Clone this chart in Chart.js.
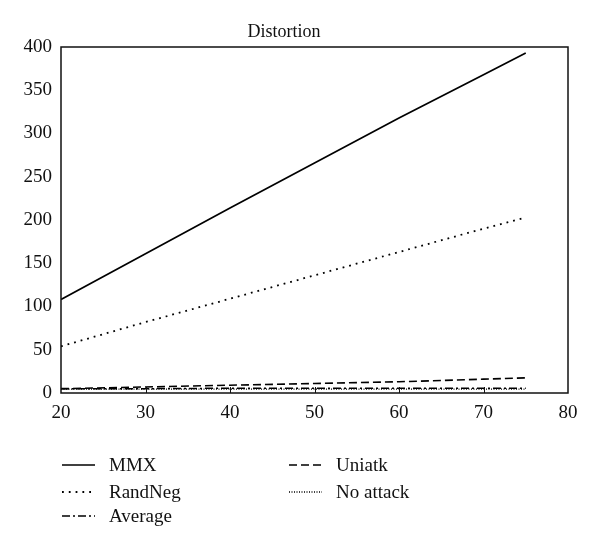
<!DOCTYPE html>
<html>
<head>
<meta charset="utf-8">
<script src="https://cdn.jsdelivr.net/npm/chart.js@4"></script>
<style>
  body { margin: 0; background: #fff; }
  #wrap { position: relative; width: 600px; height: 549px; font-family: "Liberation Serif", serif; color: #111; }
  #legend { position: absolute; left: 0; top: 0; width: 600px; height: 549px; pointer-events: none; }
  .item { position: absolute; display: flex; align-items: center; font-size: 19px; height: 24px; }
  .item svg { margin-right: 14px; }
</style>
</head>
<body>
<div id="wrap">
  <canvas id="chart" width="600" height="430"></canvas>
  <div id="legend"></div>
</div>
<script>
// x positions where the curves were sampled
const xValues = [20, 30, 40, 50, 60, 70, 75];

// series values
const mmx = [108, 161, 214, 266, 318, 368, 393];
const randNeg = [54, 82, 109, 136, 163, 190, 203];
const average = [5, 5, 5.5, 5.5, 5.5, 5.5, 5.5];
const uniatk = [5, 7, 9, 11, 13, 16, 17.5];
const noAttack = [4.5, 4.5, 4.5, 4.5, 4.5, 4.5, 4.5];

const seriesNames = ['MMX', 'RandNeg', 'Average', 'Uniatk', 'No attack'];
const xTicks = [20, 30, 40, 50, 60, 70, 80];
const yTicks = [0, 50, 100, 150, 200, 250, 300, 350, 400];

const seriesData = [mmx, randNeg, average, uniatk, noAttack];
const dashes = [[], [1.8, 5], [8, 3, 2, 3], [8, 4], [1, 1.5]];
const widths = [1.7, 1.8, 1.5, 1.6, 1.3];

const datasets = seriesNames.map((name, i) => ({
    label: name,
    data: xValues.map((x, j) => ({ x: x, y: seriesData[i][j] })),
    borderColor: '#000',
    borderWidth: widths[i],
    borderDash: dashes[i],
    pointRadius: 0,
    fill: false,
    tension: 0
}));

// box around the plot and short inward ticks on the x axis
const frame = {
    id: 'frame',
    afterDatasetsDraw(chart) {
        const { ctx, chartArea: a, scales } = chart;
        ctx.save();
        ctx.strokeStyle = '#111';
        ctx.lineWidth = 1.5;
        ctx.setLineDash([]);
        ctx.strokeRect(a.left, a.top, a.right - a.left, a.bottom - a.top);
        ctx.lineWidth = 1;
        xTicks.slice(1, -1).forEach(v => {
            const px = Math.round(scales.x.getPixelForValue(v)) + 0.5;
            ctx.beginPath();
            ctx.moveTo(px, a.bottom);
            ctx.lineTo(px, a.bottom - 6);
            ctx.stroke();
        });
        ctx.restore();
    }
};

const tickFont = { family: '"Liberation Serif", serif', size: 19 };

new Chart(document.getElementById('chart').getContext('2d'), {
    type: 'line',
    data: { datasets: datasets },
    options: {
        responsive: false,
        animation: false,
        layout: { padding: { left: 0, right: 32, top: 0, bottom: 0 } },
        plugins: {
            legend: { display: false },
            tooltip: { enabled: false },
            title: {
                display: true,
                text: 'Distortion',
                color: '#111',
                font: { family: '"Liberation Serif", serif', size: 18, weight: 'normal' },
                padding: { top: 21, bottom: 4.4 }
            }
        },
        scales: {
            x: {
                type: 'linear',
                min: 20,
                max: 80,
                afterBuildTicks: s => { s.ticks = xTicks.map(v => ({ value: v })); },
                afterFit: s => { s.height = 37; },
                grid: { display: false, drawTicks: false },
                border: { display: false },
                ticks: { color: '#111', font: tickFont, padding: 9, maxRotation: 0 }
            },
            y: {
                min: 0,
                max: 400,
                afterBuildTicks: s => { s.ticks = yTicks.map(v => ({ value: v })); },
                afterFit: s => { s.width = 61; },
                grid: { display: false, drawTicks: false },
                border: { display: false },
                ticks: { color: '#111', font: tickFont, padding: 9 }
            }
        }
    },
    plugins: [frame]
});

// legend laid out in two columns below the plot
const legendPos = [
    { left: 62, top: 465 },
    { left: 62, top: 492 },
    { left: 62, top: 516 },
    { left: 289, top: 465 },
    { left: 289, top: 492 }
];
const legendDiv = document.getElementById('legend');
seriesNames.forEach((name, i) => {
    const item = document.createElement('div');
    item.className = 'item';
    item.style.left = legendPos[i].left + 'px';
    item.style.top = (legendPos[i].top - 12) + 'px';
    const dash = dashes[i].length ? dashes[i].join(' ') : 'none';
    item.innerHTML = '<svg width="33" height="4"><line x1="0" y1="2" x2="33" y2="2" stroke="#000" stroke-width="' +
        widths[i] + '" stroke-dasharray="' + dash + '"/></svg>';
    const label = document.createElement('span');
    label.textContent = name;
    item.appendChild(label);
    legendDiv.appendChild(item);
});
</script>
</body>
</html>
